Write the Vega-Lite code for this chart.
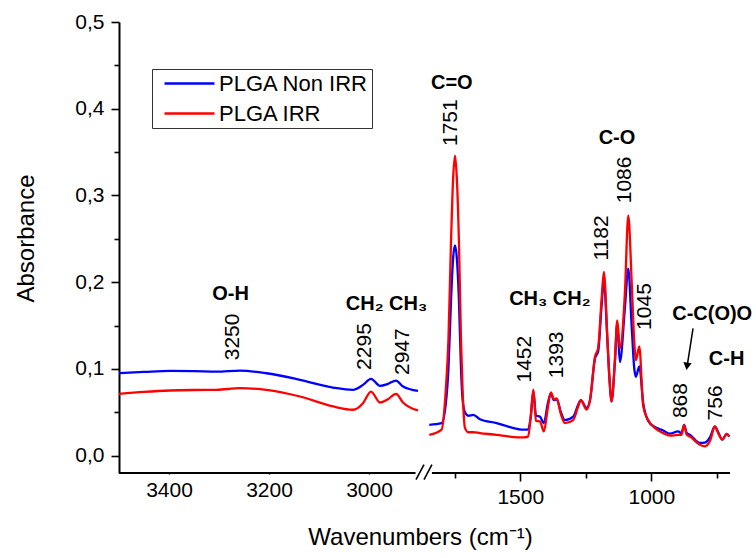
{
  "$schema": "https://vega.github.io/schema/vega-lite/v6.json",
  "autosize": {"type": "none"},
  "padding": {"left": 119, "top": 22, "right": 26, "bottom": 85},
  "width": 611,
  "height": 451,
  "config": {
    "font": "Liberation Sans",
    "view": {"stroke": null},
    "axis": {
      "domainColor": "black", "domainWidth": 2, "tickColor": "black", "tickWidth": 1.6,
      "labelColor": "black", "labelFontSize": 21, "titleColor": "black", "titleFontSize": 24,
      "titleFontWeight": "normal", "grid": false
    }
  },
  "layer": [
    {
      "data": {"values": [
        {"s":"PLGA Non IRR","seg":"L","wn":3500,"a":0.0951},{"s":"PLGA Non IRR","seg":"L","wn":3450,"a":0.0965},{"s":"PLGA Non IRR","seg":"L","wn":3398,"a":0.0977},{"s":"PLGA Non IRR","seg":"L","wn":3350,"a":0.0975},{"s":"PLGA Non IRR","seg":"L","wn":3305,"a":0.0969},{"s":"PLGA Non IRR","seg":"L","wn":3258,"a":0.0981},{"s":"PLGA Non IRR","seg":"L","wn":3205,"a":0.095},{"s":"PLGA Non IRR","seg":"L","wn":3138,"a":0.0874},{"s":"PLGA Non IRR","seg":"L","wn":3072,"a":0.0785},{"s":"PLGA Non IRR","seg":"L","wn":3032,"a":0.0759},{"s":"PLGA Non IRR","seg":"L","wn":3012,"a":0.0816},{"s":"PLGA Non IRR","seg":"L","wn":2996,"a":0.0885},{"s":"PLGA Non IRR","seg":"L","wn":2978,"a":0.0805},{"s":"PLGA Non IRR","seg":"L","wn":2962,"a":0.0828},{"s":"PLGA Non IRR","seg":"L","wn":2946,"a":0.0866},{"s":"PLGA Non IRR","seg":"L","wn":2932,"a":0.0797},{"s":"PLGA Non IRR","seg":"L","wn":2902,"a":0.0747},
        {"s":"PLGA Non IRR","seg":"R","wn":1847,"a":0.0356},{"s":"PLGA Non IRR","seg":"R","wn":1800,"a":0.0375},{"s":"PLGA Non IRR","seg":"R","wn":1784,"a":0.06},{"s":"PLGA Non IRR","seg":"R","wn":1774,"a":0.10},{"s":"PLGA Non IRR","seg":"R","wn":1764,"a":0.18},{"s":"PLGA Non IRR","seg":"R","wn":1756,"a":0.228},{"s":"PLGA Non IRR","seg":"R","wn":1749,"a":0.2425},{"s":"PLGA Non IRR","seg":"R","wn":1742,"a":0.228},{"s":"PLGA Non IRR","seg":"R","wn":1734,"a":0.18},{"s":"PLGA Non IRR","seg":"R","wn":1726,"a":0.10},{"s":"PLGA Non IRR","seg":"R","wn":1720,"a":0.065},{"s":"PLGA Non IRR","seg":"R","wn":1711,"a":0.05},{"s":"PLGA Non IRR","seg":"R","wn":1698,"a":0.046},{"s":"PLGA Non IRR","seg":"R","wn":1679,"a":0.047},{"s":"PLGA Non IRR","seg":"R","wn":1654,"a":0.042},{"s":"PLGA Non IRR","seg":"R","wn":1590,"a":0.0375},{"s":"PLGA Non IRR","seg":"R","wn":1540,"a":0.033},{"s":"PLGA Non IRR","seg":"R","wn":1489,"a":0.030},{"s":"PLGA Non IRR","seg":"R","wn":1470,"a":0.030},{"s":"PLGA Non IRR","seg":"R","wn":1460,"a":0.045},{"s":"PLGA Non IRR","seg":"R","wn":1450,"a":0.074},{"s":"PLGA Non IRR","seg":"R","wn":1440,"a":0.046},{"s":"PLGA Non IRR","seg":"R","wn":1425,"a":0.045},{"s":"PLGA Non IRR","seg":"R","wn":1410,"a":0.0375},{"s":"PLGA Non IRR","seg":"R","wn":1395,"a":0.06},{"s":"PLGA Non IRR","seg":"R","wn":1383,"a":0.072},{"s":"PLGA Non IRR","seg":"R","wn":1372,"a":0.064},{"s":"PLGA Non IRR","seg":"R","wn":1361,"a":0.065},{"s":"PLGA Non IRR","seg":"R","wn":1345,"a":0.050},{"s":"PLGA Non IRR","seg":"R","wn":1330,"a":0.041},{"s":"PLGA Non IRR","seg":"R","wn":1298,"a":0.045},{"s":"PLGA Non IRR","seg":"R","wn":1280,"a":0.058},{"s":"PLGA Non IRR","seg":"R","wn":1269,"a":0.064},{"s":"PLGA Non IRR","seg":"R","wn":1247,"a":0.055},{"s":"PLGA Non IRR","seg":"R","wn":1234,"a":0.064},{"s":"PLGA Non IRR","seg":"R","wn":1215,"a":0.112},{"s":"PLGA Non IRR","seg":"R","wn":1203,"a":0.12},{"s":"PLGA Non IRR","seg":"R","wn":1190,"a":0.172},{"s":"PLGA Non IRR","seg":"R","wn":1181,"a":0.202},{"s":"PLGA Non IRR","seg":"R","wn":1168,"a":0.135},{"s":"PLGA Non IRR","seg":"R","wn":1160,"a":0.09},{"s":"PLGA Non IRR","seg":"R","wn":1152,"a":0.0625},{"s":"PLGA Non IRR","seg":"R","wn":1139,"a":0.108},{"s":"PLGA Non IRR","seg":"R","wn":1130,"a":0.1525},{"s":"PLGA Non IRR","seg":"R","wn":1120,"a":0.108},{"s":"PLGA Non IRR","seg":"R","wn":1101,"a":0.17},{"s":"PLGA Non IRR","seg":"R","wn":1088,"a":0.2157},{"s":"PLGA Non IRR","seg":"R","wn":1075,"a":0.149},{"s":"PLGA Non IRR","seg":"R","wn":1065,"a":0.10},{"s":"PLGA Non IRR","seg":"R","wn":1059,"a":0.091},{"s":"PLGA Non IRR","seg":"R","wn":1046,"a":0.103},{"s":"PLGA Non IRR","seg":"R","wn":1031,"a":0.0606},{"s":"PLGA Non IRR","seg":"R","wn":1012,"a":0.040},{"s":"PLGA Non IRR","seg":"R","wn":987,"a":0.033},{"s":"PLGA Non IRR","seg":"R","wn":955,"a":0.029},{"s":"PLGA Non IRR","seg":"R","wn":929,"a":0.0253},{"s":"PLGA Non IRR","seg":"R","wn":898,"a":0.028},{"s":"PLGA Non IRR","seg":"R","wn":885,"a":0.026},{"s":"PLGA Non IRR","seg":"R","wn":875,"a":0.0356},{"s":"PLGA Non IRR","seg":"R","wn":865,"a":0.026},{"s":"PLGA Non IRR","seg":"R","wn":853,"a":0.024},{"s":"PLGA Non IRR","seg":"R","wn":815,"a":0.0146},{"s":"PLGA Non IRR","seg":"R","wn":796,"a":0.015},{"s":"PLGA Non IRR","seg":"R","wn":775,"a":0.022},{"s":"PLGA Non IRR","seg":"R","wn":758,"a":0.0337},{"s":"PLGA Non IRR","seg":"R","wn":745,"a":0.027},{"s":"PLGA Non IRR","seg":"R","wn":729,"a":0.0184},{"s":"PLGA Non IRR","seg":"R","wn":713,"a":0.025},{"s":"PLGA Non IRR","seg":"R","wn":703,"a":0.022},
        {"s":"PLGA IRR","seg":"L","wn":3500,"a":0.0713},{"s":"PLGA IRR","seg":"L","wn":3450,"a":0.0735},{"s":"PLGA IRR","seg":"L","wn":3398,"a":0.0751},{"s":"PLGA IRR","seg":"L","wn":3350,"a":0.0757},{"s":"PLGA IRR","seg":"L","wn":3305,"a":0.0759},{"s":"PLGA IRR","seg":"L","wn":3258,"a":0.0778},{"s":"PLGA IRR","seg":"L","wn":3205,"a":0.0759},{"s":"PLGA IRR","seg":"L","wn":3138,"a":0.0682},{"s":"PLGA IRR","seg":"L","wn":3072,"a":0.0567},{"s":"PLGA IRR","seg":"L","wn":3032,"a":0.0529},{"s":"PLGA IRR","seg":"L","wn":3012,"a":0.0605},{"s":"PLGA IRR","seg":"L","wn":2996,"a":0.0739},{"s":"PLGA IRR","seg":"L","wn":2978,"a":0.0613},{"s":"PLGA IRR","seg":"L","wn":2962,"a":0.0651},{"s":"PLGA IRR","seg":"L","wn":2946,"a":0.0713},{"s":"PLGA IRR","seg":"L","wn":2932,"a":0.0613},{"s":"PLGA IRR","seg":"L","wn":2902,"a":0.0521},
        {"s":"PLGA IRR","seg":"R","wn":1847,"a":0.024},{"s":"PLGA IRR","seg":"R","wn":1800,"a":0.030},{"s":"PLGA IRR","seg":"R","wn":1784,"a":0.076},{"s":"PLGA IRR","seg":"R","wn":1774,"a":0.133},{"s":"PLGA IRR","seg":"R","wn":1764,"a":0.248},{"s":"PLGA IRR","seg":"R","wn":1756,"a":0.32},{"s":"PLGA IRR","seg":"R","wn":1749,"a":0.346},{"s":"PLGA IRR","seg":"R","wn":1742,"a":0.32},{"s":"PLGA IRR","seg":"R","wn":1734,"a":0.248},{"s":"PLGA IRR","seg":"R","wn":1726,"a":0.133},{"s":"PLGA IRR","seg":"R","wn":1720,"a":0.076},{"s":"PLGA IRR","seg":"R","wn":1711,"a":0.032},{"s":"PLGA IRR","seg":"R","wn":1698,"a":0.027},{"s":"PLGA IRR","seg":"R","wn":1679,"a":0.027},{"s":"PLGA IRR","seg":"R","wn":1654,"a":0.026},{"s":"PLGA IRR","seg":"R","wn":1590,"a":0.024},{"s":"PLGA IRR","seg":"R","wn":1540,"a":0.022},{"s":"PLGA IRR","seg":"R","wn":1489,"a":0.021},{"s":"PLGA IRR","seg":"R","wn":1470,"a":0.022},{"s":"PLGA IRR","seg":"R","wn":1460,"a":0.045},{"s":"PLGA IRR","seg":"R","wn":1450,"a":0.076},{"s":"PLGA IRR","seg":"R","wn":1440,"a":0.04},{"s":"PLGA IRR","seg":"R","wn":1425,"a":0.0395},{"s":"PLGA IRR","seg":"R","wn":1410,"a":0.028},{"s":"PLGA IRR","seg":"R","wn":1395,"a":0.055},{"s":"PLGA IRR","seg":"R","wn":1383,"a":0.073},{"s":"PLGA IRR","seg":"R","wn":1372,"a":0.065},{"s":"PLGA IRR","seg":"R","wn":1361,"a":0.066},{"s":"PLGA IRR","seg":"R","wn":1345,"a":0.048},{"s":"PLGA IRR","seg":"R","wn":1330,"a":0.0375},{"s":"PLGA IRR","seg":"R","wn":1298,"a":0.041},{"s":"PLGA IRR","seg":"R","wn":1280,"a":0.056},{"s":"PLGA IRR","seg":"R","wn":1269,"a":0.064},{"s":"PLGA IRR","seg":"R","wn":1247,"a":0.053},{"s":"PLGA IRR","seg":"R","wn":1234,"a":0.064},{"s":"PLGA IRR","seg":"R","wn":1215,"a":0.114},{"s":"PLGA IRR","seg":"R","wn":1203,"a":0.124},{"s":"PLGA IRR","seg":"R","wn":1190,"a":0.179},{"s":"PLGA IRR","seg":"R","wn":1181,"a":0.212},{"s":"PLGA IRR","seg":"R","wn":1168,"a":0.137},{"s":"PLGA IRR","seg":"R","wn":1160,"a":0.09},{"s":"PLGA IRR","seg":"R","wn":1152,"a":0.0625},{"s":"PLGA IRR","seg":"R","wn":1139,"a":0.110},{"s":"PLGA IRR","seg":"R","wn":1130,"a":0.156},{"s":"PLGA IRR","seg":"R","wn":1120,"a":0.124},{"s":"PLGA IRR","seg":"R","wn":1101,"a":0.187},{"s":"PLGA IRR","seg":"R","wn":1088,"a":0.277},{"s":"PLGA IRR","seg":"R","wn":1075,"a":0.20},{"s":"PLGA IRR","seg":"R","wn":1065,"a":0.13},{"s":"PLGA IRR","seg":"R","wn":1059,"a":0.110},{"s":"PLGA IRR","seg":"R","wn":1046,"a":0.126},{"s":"PLGA IRR","seg":"R","wn":1031,"a":0.057},{"s":"PLGA IRR","seg":"R","wn":1012,"a":0.041},{"s":"PLGA IRR","seg":"R","wn":987,"a":0.032},{"s":"PLGA IRR","seg":"R","wn":955,"a":0.026},{"s":"PLGA IRR","seg":"R","wn":929,"a":0.023},{"s":"PLGA IRR","seg":"R","wn":898,"a":0.024},{"s":"PLGA IRR","seg":"R","wn":885,"a":0.024},{"s":"PLGA IRR","seg":"R","wn":875,"a":0.0356},{"s":"PLGA IRR","seg":"R","wn":865,"a":0.024},{"s":"PLGA IRR","seg":"R","wn":853,"a":0.022},{"s":"PLGA IRR","seg":"R","wn":815,"a":0.0126},{"s":"PLGA IRR","seg":"R","wn":796,"a":0.0107},{"s":"PLGA IRR","seg":"R","wn":775,"a":0.018},{"s":"PLGA IRR","seg":"R","wn":758,"a":0.0337},{"s":"PLGA IRR","seg":"R","wn":745,"a":0.026},{"s":"PLGA IRR","seg":"R","wn":729,"a":0.0184},{"s":"PLGA IRR","seg":"R","wn":713,"a":0.025},{"s":"PLGA IRR","seg":"R","wn":703,"a":0.022}
      ]},
      "mark": {"type": "line", "strokeWidth": 2.3, "interpolate": "monotone"},
      "encoding": {
        "x": {
          "field": "wn", "type": "quantitative",
          "scale": {"domain": [3500, 2900, 1850, 700], "range": [0, 300, 309.5, 611], "nice": false, "zero": false},
          "axis": {
            "title": "Wavenumbers (cm⁻¹)", "domain": false,
            "values": [3400, 3300, 3200, 3100, 3000, 1750, 1500, 1250, 1000, 750],
            "labelExpr": "(datum.value > 2000 ? datum.value % 200 == 0 : datum.value % 500 == 0) ? format(datum.value, 'd') : ''",
            "tickSize": {"condition": {"test": "datum.value > 2000 ? datum.value % 200 == 0 : datum.value % 500 == 0", "value": 8}, "value": 5},
            "labelPadding": 5, "labelFlush": false, "labelOverlap": false,
            "titleX": 301, "titleY": 71, "titleBaseline": "alphabetic", "titleAnchor": null
          }
        },
        "y": {
          "field": "a", "type": "quantitative",
          "scale": {"domain": [-0.02, 0.5], "nice": false, "zero": false},
          "axis": {
            "title": "Absorbance",
            "values": [0, 0.05, 0.1, 0.15, 0.2, 0.25, 0.3, 0.35, 0.4, 0.45, 0.5],
            "labelExpr": "round(datum.value * 100) % 10 == 0 ? replace(format(datum.value, '.1f'), '.', ',') : ''",
            "tickSize": {"condition": {"test": "round(datum.value * 100) % 10 == 0", "value": 8}, "value": 5},
            "labelPadding": 7, "labelFlush": false, "labelOverlap": false,
            "titleX": -86, "titleY": 216, "titleBaseline": "alphabetic", "titleAngle": -90
          }
        },
        "color": {
          "field": "s", "type": "nominal",
          "scale": {"domain": ["PLGA Non IRR", "PLGA IRR"], "range": ["#0000ff", "#ff0000"]},
          "legend": {
            "title": null, "orient": "none", "legendX": 33, "legendY": 47,
            "strokeColor": "#333333", "padding": 3, "symbolType": "M-2.5,0H2.5", "symbolSize": 400,
            "symbolStrokeWidth": 2.5, "symbolOffset": 23, "labelFontSize": 22, "labelColor": "black",
            "labelOffset": 18, "rowPadding": 7
          }
        },
        "detail": {"field": "seg"}
      }
    },
    {
      "data": {"values": [{"wn": 3500, "wn2": 2907}, {"wn": 1837, "wn2": 700}]},
      "mark": {"type": "rule", "strokeWidth": 2, "color": "black"},
      "encoding": {"x": {"field": "wn", "type": "quantitative"}, "x2": {"field": "wn2"}, "y": {"datum": -0.02}}
    },
    {
      "data": {"values": [{"wn": 2906, "wn2": 2347, "a": -0.0276, "a2": -0.0103}, {"wn": 2347, "wn2": 1837, "a": -0.0276, "a2": -0.0103}]},
      "mark": {"type": "rule", "strokeWidth": 1.6, "color": "black"},
      "encoding": {"x": {"field": "wn", "type": "quantitative"}, "x2": {"field": "wn2"}, "y": {"field": "a", "type": "quantitative"}, "y2": {"field": "a2"}}
    },
    {
      "data": {"values": [
        {"t": "3250", "wn": 3272, "a": 0.110}, {"t": "2295", "wn": 3008, "a": 0.0989}, {"t": "2947", "wn": 2933, "a": 0.093},
        {"t": "1751", "wn": 1765, "a": 0.357}, {"t": "1182", "wn": 1190, "a": 0.225}, {"t": "1086", "wn": 1101, "a": 0.291},
        {"t": "1452", "wn": 1482, "a": 0.0843}, {"t": "1393", "wn": 1359, "a": 0.0893}, {"t": "1045", "wn": 1025, "a": 0.145},
        {"t": "868", "wn": 885, "a": 0.0433}, {"t": "756", "wn": 755, "a": 0.0406}
      ]},
      "mark": {"type": "text", "angle": 270, "align": "left", "baseline": "middle", "fontSize": 21, "color": "black"},
      "encoding": {"x": {"field": "wn", "type": "quantitative"}, "y": {"field": "a", "type": "quantitative"}, "text": {"field": "t"}}
    },
    {
      "data": {"values": [
        {"t": "O-H", "wn": 3277, "a": 0.179}, {"t": "CH₂ CH₃", "wn": 2965, "a": 0.168}, {"t": "C=O", "wn": 1761, "a": 0.4226},
        {"t": "C-O", "wn": 1131, "a": 0.359}, {"t": "CH₃ CH₂", "wn": 1387, "a": 0.1736}, {"t": "C-C(O)O", "wn": 768, "a": 0.156},
        {"t": "C-H", "wn": 713, "a": 0.1046}
      ]},
      "mark": {"type": "text", "align": "center", "baseline": "alphabetic", "fontSize": 20, "fontWeight": "bold", "color": "black"},
      "encoding": {"x": {"field": "wn", "type": "quantitative"}, "y": {"field": "a", "type": "quantitative"}, "text": {"field": "t"}}
    },
    {
      "data": {"values": [{"wn": 841, "a": 0.1468, "wn2": 863, "a2": 0.104}]},
      "mark": {"type": "rule", "strokeWidth": 1.5, "color": "black"},
      "encoding": {"x": {"field": "wn", "type": "quantitative"}, "y": {"field": "a", "type": "quantitative"}, "x2": {"field": "wn2"}, "y2": {"field": "a2"}}
    },
    {
      "data": {"values": [{"wn": 864, "a": 0.103}]},
      "mark": {"type": "point", "shape": "triangle-down", "filled": true, "size": 70, "angle": 8.6, "color": "black", "opacity": 1},
      "encoding": {"x": {"field": "wn", "type": "quantitative"}, "y": {"field": "a", "type": "quantitative"}}
    }
  ]
}
